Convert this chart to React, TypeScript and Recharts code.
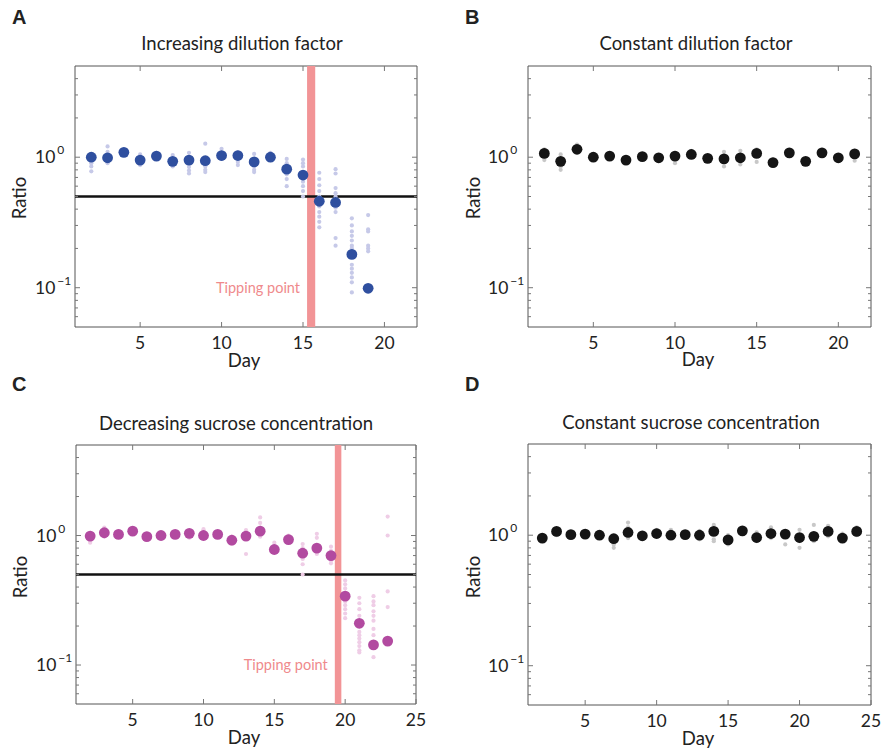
import React from "react";
import {
  ScatterChart,
  Scatter,
  XAxis,
  YAxis,
  ReferenceArea,
  ReferenceLine,
  ReferenceDot,
} from "recharts";

const FONT = "Lato, 'Open Sans', sans-serif";

// A: increasing dilution factor
const dilutionDays = [2, 3, 4, 5, 6, 7, 8, 9, 10, 11, 12, 13, 14, 15, 16, 17, 18, 19];
const dilutionMeans = [1.0, 0.99, 1.09, 0.95, 1.02, 0.93, 0.95, 0.94, 1.03, 1.03, 0.92, 1.0, 0.81, 0.73, 0.46, 0.45, 0.18, 0.099];
const dilutionReps = [
  [1.0, 0.96, 0.9, 0.85, 0.78],
  [1.21, 1.1, 0.95, 0.9],
  [1.12, 1.05],
  [1.05, 0.9, 0.87],
  [1.08, 0.98],
  [1.04, 0.9, 0.85],
  [1.08, 0.9, 0.84, 0.79, 0.75],
  [1.27, 0.9, 0.85, 0.8, 0.77],
  [1.16, 1.08, 0.97],
  [1.09, 0.92, 0.87],
  [1.06, 0.85, 0.8, 0.77],
  [1.08, 1.02, 0.95],
  [0.97, 0.9, 0.74, 0.68, 0.6],
  [0.96, 0.9, 0.85, 0.65, 0.6, 0.55, 0.5],
  [0.76, 0.68, 0.61, 0.55, 0.5, 0.42, 0.38, 0.35, 0.32, 0.29],
  [0.81, 0.75, 0.58, 0.53, 0.5, 0.41, 0.38, 0.24, 0.21],
  [0.34, 0.3, 0.27, 0.25, 0.23, 0.21, 0.2, 0.15, 0.14, 0.13, 0.12, 0.11, 0.092],
  [0.36, 0.28, 0.27, 0.21, 0.2, 0.19],
];

// B: constant dilution factor
const constDilDays = [2, 3, 4, 5, 6, 7, 8, 9, 10, 11, 12, 13, 14, 15, 16, 17, 18, 19, 20, 21];
const constDilMeans = [1.07, 0.93, 1.15, 1.0, 1.02, 0.95, 1.01, 0.99, 1.02, 1.05, 0.98, 0.97, 0.99, 1.07, 0.91, 1.08, 0.93, 1.08, 0.99, 1.06];
const constDilReps = [
  [1.15, 0.95], [1.05, 0.85, 0.8], [1.25, 1.1], [1.03], [0.98], [0.97], [1.04], [1.02, 0.97],
  [1.08, 0.9], [1.12, 1.0], [1.02], [1.1, 0.85], [1.12, 0.88], [1.15, 0.92], [0.96, 0.88],
  [1.02], [0.9], [1.14], [1.03], [1.12, 0.94],
];

// C: decreasing sucrose concentration
const sucroseDays = [2, 3, 4, 5, 6, 7, 8, 9, 10, 11, 12, 13, 14, 15, 16, 17, 18, 19, 20, 21, 22, 23];
const sucroseMeans = [0.99, 1.05, 1.02, 1.08, 0.98, 1.0, 1.02, 1.04, 1.0, 1.02, 0.92, 0.99, 1.08, 0.78, 0.93, 0.73, 0.8, 0.7, 0.34, 0.21, 0.143, 0.153];
const sucroseReps = [
  [1.05, 0.92, 0.88], [1.15, 0.98], [1.08, 0.97], [1.04], [1.02, 0.96], [1.04, 0.97],
  [1.06, 0.98], [1.08, 0.96], [1.12, 0.95], [1.06, 0.98], [0.98, 0.86], [1.1, 1.05, 0.72],
  [1.38, 1.25, 1.15, 0.98], [0.88, 0.82], [1.0, 0.88], [0.86, 0.8, 0.66, 0.6, 0.5],
  [1.03, 0.96, 0.75, 0.72], [0.82, 0.76, 0.64, 0.61],
  [0.45, 0.42, 0.39, 0.31, 0.29, 0.27, 0.25, 0.23],
  [0.33, 0.3, 0.27, 0.24, 0.18, 0.17, 0.16, 0.15, 0.14, 0.13, 0.125],
  [0.34, 0.31, 0.29, 0.26, 0.24, 0.22, 0.19, 0.17, 0.115],
  [1.4, 1.0, 0.37, 0.28],
];

// D: constant sucrose concentration
const constSucDays = [2, 3, 4, 5, 6, 7, 8, 9, 10, 11, 12, 13, 14, 15, 16, 17, 18, 19, 20, 21, 22, 23, 24];
const constSucMeans = [0.95, 1.07, 1.01, 1.02, 1.0, 0.94, 1.05, 0.99, 1.03, 1.0, 1.01, 1.0, 1.07, 0.92, 1.08, 0.96, 1.03, 1.02, 0.96, 0.98, 1.07, 0.95, 1.07];
const constSucReps = [
  [0.9], [1.0], [0.97], [1.0], [0.97], [0.85, 0.8], [1.25, 1.15, 0.95], [0.95], [1.1],
  [1.1, 0.95], [0.96], [1.08, 0.93], [1.2, 0.93, 0.9], [1.0, 0.85], [1.02], [1.05, 0.9],
  [1.15, 0.95], [1.05, 0.85], [1.1, 0.9, 0.8], [1.2, 0.93, 0.9], [1.18, 0.98], [1.03, 0.9], [1.15, 1.0],
];

const Y_MAJOR = [0.1, 1];
const Y_TICKS = [0.06, 0.07, 0.08, 0.09, 0.1, 0.2, 0.3, 0.4, 0.5, 0.6, 0.7, 0.8, 0.9, 1, 2, 3, 4];
const X_TICKS_22 = [5, 10, 15, 20];
const X_TICKS_25 = [5, 10, 15, 20, 25];
const THRESHOLD = 0.5;

const Y_AXIS_W = 40;
const X_AXIS_H = 30;

type Pt = { day: number; ratio: number };

const flatten = (days: number[], reps: number[][]): Pt[] =>
  days.flatMap((d, i) => reps[i].map((r) => ({ day: d, ratio: r })));
const pairs = (days: number[], vals: number[]): Pt[] => days.map((d, i) => ({ day: d, ratio: vals[i] }));

type PanelProps = {
  left: number;
  top: number;
  width: number;
  height: number;
  margin: { top: number; right: number; bottom: number; left: number };
  xMax: number;
  xTicks: number[];
  reps: Pt[];
  means: Pt[];
  repColor: string;
  meanColor: string;
  tipping?: [number, number];
};

function Panel(p: PanelProps) {
  const plotW = p.width - p.margin.left - p.margin.right - Y_AXIS_W;
  const plotH = p.height - p.margin.top - p.margin.bottom - X_AXIS_H;

  const yTick = (t: any) => {
    const { x, y, payload } = t;
    const v = payload.value;
    const major = Y_MAJOR.includes(v);
    const len = major ? 5 : 3;
    return (
      <g>
        <line x1={x} x2={x + len} y1={y} y2={y} stroke="#777" />
        <line x1={x + plotW} x2={x + plotW - len} y1={y} y2={y} stroke="#777" />
        {major && (
          <text x={x - 40} y={y + 6} fontFamily={FONT} fontSize={17.5} fill="#222">
            10
            <tspan dx={2} dy={-9} fontSize={12}>
              {v === 1 ? "0" : "\u22121"}
            </tspan>
          </text>
        )}
      </g>
    );
  };

  const xTick = (t: any) => {
    const { x, y, payload } = t;
    return (
      <g>
        <line x1={x} x2={x} y1={y} y2={y - 5} stroke="#777" />
        <line x1={x} x2={x} y1={y - plotH} y2={y - plotH + 5} stroke="#777" />
        <text x={x} y={y + 22} textAnchor="middle" fontFamily={FONT} fontSize={17.5} fill="#222">
          {payload.value}
        </text>
      </g>
    );
  };

  const small = (s: any) => <circle cx={s.cx} cy={s.cy} r={2.1} fill={p.repColor} />;
  const big = (s: any) => <circle cx={s.cx} cy={s.cy} r={5.4} fill={p.meanColor} />;

  return (
    <div style={{ position: "absolute", left: p.left, top: p.top }}>
      <ScatterChart width={p.width} height={p.height} margin={p.margin}>
        <XAxis
          type="number"
          dataKey="day"
          domain={[1, p.xMax]}
          ticks={p.xTicks}
          allowDataOverflow
          axisLine={false}
          tickLine={false}
          tickSize={0}
          tickMargin={0}
          height={X_AXIS_H}
          interval={0}
          tick={xTick}
        />
        <YAxis
          type="number"
          dataKey="ratio"
          scale="log"
          domain={[0.05, 5]}
          ticks={Y_TICKS}
          allowDataOverflow
          axisLine={false}
          tickLine={false}
          tickSize={0}
          tickMargin={0}
          width={Y_AXIS_W}
          interval={0}
          tick={yTick}
        />
        <ReferenceArea x1={1} x2={p.xMax} y1={0.05} y2={5} fill="none" stroke="#555" strokeWidth={1} />
        {p.tipping && <ReferenceLine y={THRESHOLD} stroke="#111" strokeWidth={2.6} />}
        {p.tipping && (
          <ReferenceArea x1={p.tipping[0]} x2={p.tipping[1]} fill="#f29496" fillOpacity={1} stroke="none" />
        )}
        {p.tipping && (
          <ReferenceDot
            x={p.tipping[0]}
            y={0.1}
            r={0}
            fill="none"
            stroke="none"
            label={{ value: "Tipping point", position: "left", offset: 7, fill: "#ef8a8c", fontSize: 14.5, fontFamily: FONT }}
          />
        )}
        <Scatter data={p.reps} shape={small} isAnimationActive={false} />
        <Scatter data={p.means} shape={big} isAnimationActive={false} />
      </ScatterChart>
    </div>
  );
}

const TEXTS = [
  { letter: "A", lx: 12, ly: 24, title: "Increasing dilution factor", tx: 242, ty: 50, dx: 244, dy: 367, rx: 26, ry: 198 },
  { letter: "B", lx: 465, ly: 24, title: "Constant dilution factor", tx: 696, ty: 50, dx: 698, dy: 366, rx: 480, ry: 198 },
  { letter: "C", lx: 12, ly: 391, title: "Decreasing sucrose concentration", tx: 236, ty: 430, dx: 244, dy: 744, rx: 27, ry: 577 },
  { letter: "D", lx: 465, ly: 391, title: "Constant sucrose concentration", tx: 691, ty: 429, dx: 698, dy: 745, rx: 480, ry: 577 },
];

export default function App() {
  return (
    <div style={{ position: "absolute", left: 0, top: 0, width: 881, height: 751, background: "#fff" }}>
      <Panel
        left={0}
        top={0}
        width={440}
        height={380}
        margin={{ top: 66, right: 23, bottom: 23, left: 35 }}
        xMax={22}
        xTicks={X_TICKS_22}
        reps={flatten(dilutionDays, dilutionReps)}
        means={pairs(dilutionDays, dilutionMeans)}
        repColor="#c6c9e8"
        meanColor="#2f4f9f"
        tipping={[15.25, 15.75]}
      />
      <Panel
        left={440}
        top={0}
        width={441}
        height={380}
        margin={{ top: 66, right: 10, bottom: 23, left: 48 }}
        xMax={22}
        xTicks={X_TICKS_22}
        reps={flatten(constDilDays, constDilReps)}
        means={pairs(constDilDays, constDilMeans)}
        repColor="#c8c8c8"
        meanColor="#151515"
      />
      <Panel
        left={0}
        top={380}
        width={440}
        height={371}
        margin={{ top: 65, right: 24, bottom: 17, left: 36 }}
        xMax={25}
        xTicks={X_TICKS_25}
        reps={flatten(sucroseDays, sucroseReps)}
        means={pairs(sucroseDays, sucroseMeans)}
        repColor="#efcde6"
        meanColor="#b24aa0"
        tipping={[19.27, 19.73]}
      />
      <Panel
        left={440}
        top={380}
        width={441}
        height={371}
        margin={{ top: 64, right: 10, bottom: 16, left: 48 }}
        xMax={25}
        xTicks={X_TICKS_25}
        reps={flatten(constSucDays, constSucReps)}
        means={pairs(constSucDays, constSucMeans)}
        repColor="#c8c8c8"
        meanColor="#151515"
      />
      <svg width={881} height={751} style={{ position: "absolute", left: 0, top: 0, pointerEvents: "none" }}>
        {TEXTS.map((t) => (
          <g key={t.letter} fontFamily={FONT} fill="#222">
            <text x={t.lx} y={t.ly} fontSize={20} fontWeight="bold" fontFamily="'Liberation Sans', Arial, sans-serif">
              {t.letter}
            </text>
            <text x={t.tx} y={t.ty} fontSize={18.5} textAnchor="middle">
              {t.title}
            </text>
            <text x={t.dx} y={t.dy} fontSize={18.5} textAnchor="middle">
              Day
            </text>
            <text x={t.rx} y={t.ry} fontSize={18.5} textAnchor="middle" transform={`rotate(-90 ${t.rx} ${t.ry})`}>
              Ratio
            </text>
          </g>
        ))}
      </svg>
    </div>
  );
}
